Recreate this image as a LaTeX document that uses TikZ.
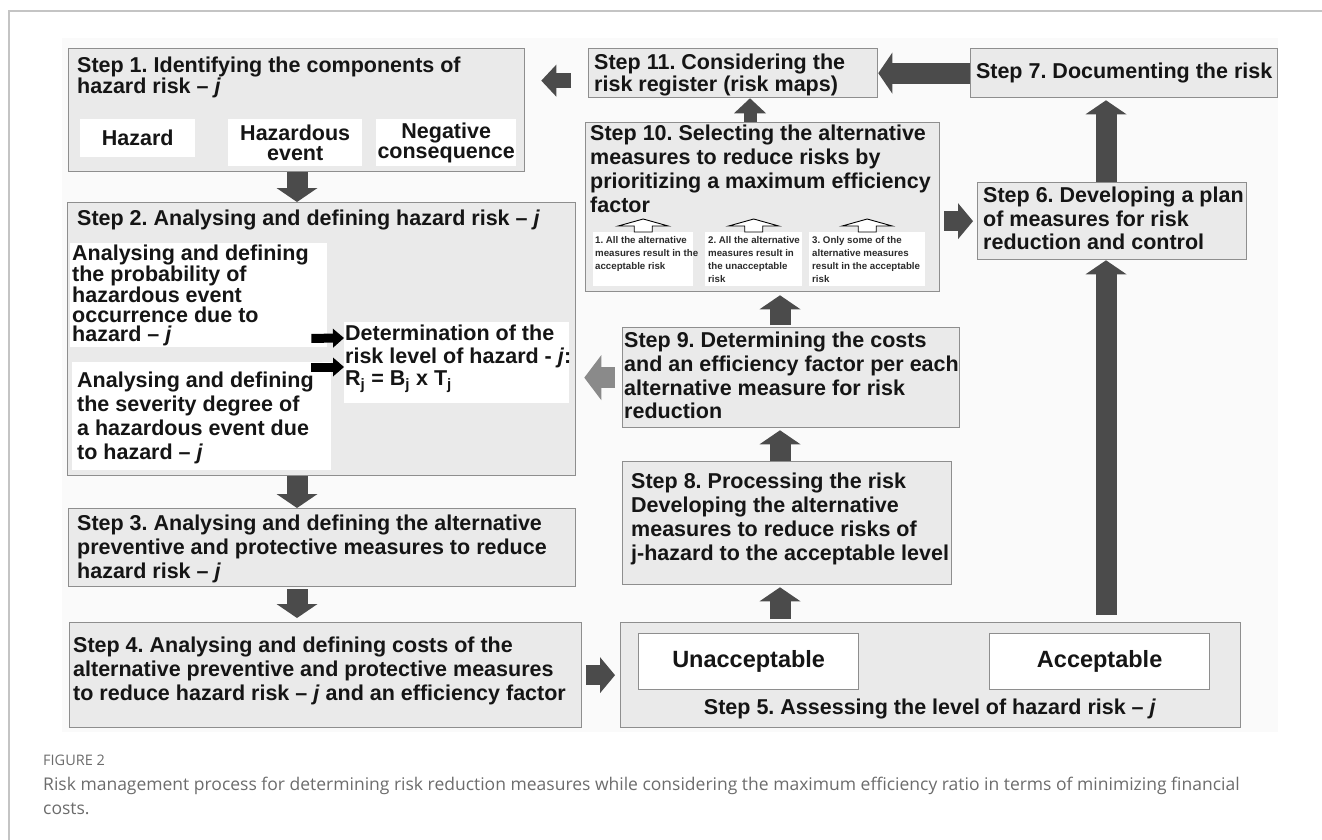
\documentclass[tikz,border=0pt]{standalone}
\usepackage{fontspec}
\setmainfont{Liberation Sans}
\newfontfamily\capfont{Open Sans}
\usepackage{tikz}
\usetikzlibrary{arrows.meta,positioning,calc}
\frenchspacing
\definecolor{cStepF}{HTML}{EAEAEA}
\definecolor{cStepL}{HTML}{8E8E8E}
\definecolor{cInk}{HTML}{151515}
\definecolor{cArrow}{HTML}{4B4B4B}
\definecolor{cArrowLt}{HTML}{8A8A8A}
\definecolor{cPanel}{HTML}{FAFAFA}
\definecolor{cFrame}{HTML}{C4C4C4}
\definecolor{cCap}{HTML}{6C6C6C}
\newcommand{\stepfont}{\bfseries\fontsize{21.5}{24}\selectfont}
\newcommand{\tightfont}{\bfseries\fontsize{21.5}{19.5}\selectfont}
\newcommand{\optfont}{\bfseries\fontsize{9.7}{13.2}\selectfont}
\newcommand{\ratefont}{\bfseries\fontsize{23.5}{26}\selectfont}
\tikzset{
  stepbox/.style={draw=cStepL,fill=cStepF,line width=1.3pt,anchor=north west,
      inner sep=0pt,text=cInk,font=\stepfont,align=center},
  whitebox/.style={fill=white,anchor=north west,inner sep=0pt},
  partbox/.style={whitebox,align=center,text=cInk,font=\tightfont},
  ratebox/.style={whitebox,draw=cStepL,line width=1.3pt,text=cInk,font=\ratefont},
  steptext/.style={anchor=north west,inner sep=0pt,align=left,text=cInk,font=\stepfont},
  opttext/.style={anchor=north west,inner sep=0pt,align=left,text=cInk!90,font=\optfont},
  bigarr/.style={draw=cArrow,line width=21pt,
      -{Triangle[length=14pt,width=41pt,line width=0pt]}},
  midarr/.style={draw=cArrow,line width=20pt,
      -{Triangle[length=15pt,width=36pt,line width=0pt]}},
  smallarr/.style={draw=cArrow,line width=15pt,
      -{Triangle[length=15pt,width=32pt,line width=0pt]}},
  greyarr/.style={draw=cArrowLt,line width=21pt,
      -{Triangle[length=17pt,width=45pt,line width=0pt]}},
  blkarr/.style={draw=black,line width=9pt,
      -{Triangle[length=11pt,width=19pt,line width=0pt]}},
  hollowarr/.style={draw=black,fill=white,line width=0.9pt,line join=miter},
}

\begin{document}
\begin{tikzpicture}[x=1pt,y=-1pt,
  figframe/.style={draw=cFrame,line width=1.5pt},
  figlabel/.style={anchor=north west,inner sep=0pt,text=cCap,
    font=\capfont\fontsize{14.5}{17}\selectfont},
  captext/.style={anchor=north west,inner sep=0pt,align=left,text=cCap,
    font=\capfont\fontsize{17.5}{24}\selectfont}]

  \useasboundingbox (0,0) rectangle (1322,840);
  \draw[figframe] (9,840) -- (9,11) -- (1322,11);
  \fill[cPanel] (62,38) rectangle (1278,732);

  % left column
  \node[stepbox,minimum width=456pt,minimum height=123pt] (s1) at (68,48) {};
  \node[steptext,font=\tightfont] (s1t) at (77,57)
    {Step 1. Identifying the components of\\hazard risk -- \textit{j}};
  \node[partbox,minimum width=115pt,minimum height=38pt] (haz) at (80,119) {Hazard};
  \node[partbox,minimum width=134pt,minimum height=47pt] (hev) at (228,119)
    {Hazardous\\event};
  \node[partbox,minimum width=140pt,minimum height=47pt] (neg) at (376,119)
    {Negative\\consequence};

  \node[stepbox,minimum width=508pt,minimum height=273pt] (s2) at (67,202) {};
  \node[steptext] (s2t) at (77,210)
    {Step 2. Analysing and defining hazard risk -- \textit{j}};
  \node[whitebox,minimum width=257pt,minimum height=104pt] (prob) at (70,243) {};
  \node[steptext,font=\tightfont] (probt) at (72,245)
    {Analysing and defining\\the probability of\\hazardous event\\occurrence due to\\hazard -- \textit{j}};
  \node[whitebox,minimum width=259pt,minimum height=108pt] (sev) at (72,362) {};
  \node[steptext] (sevt) at (77,372)
    {Analysing and defining\\the severity degree of\\a hazardous event due\\to hazard -- \textit{j}};
  \node[whitebox,minimum width=225pt,minimum height=81pt] (det) at (344,322) {};
  \node[steptext,font=\bfseries\fontsize{21.5}{22.5}\selectfont] (dett) at (345,325)
    {Determination of the\\risk level of hazard - \textit{j}:\\R\textsubscript{j} = B\textsubscript{j} x T\textsubscript{j}};

  \node[stepbox,minimum width=507pt,minimum height=78pt] (s3) at (68,508) {};
  \node[steptext] (s3t) at (77,515)
    {Step 3. Analysing and defining the alternative\\preventive and protective measures to reduce\\hazard risk -- \textit{j}};

  \node[stepbox,minimum width=512pt,minimum height=105pt] (s4) at (69,622) {};
  \node[steptext] (s4t) at (73,637)
    {Step 4. Analysing and defining costs of the\\alternative preventive and protective measures\\to reduce hazard risk -- \textit{j} and an efficiency factor};

  % middle and right column
  \node[stepbox,minimum width=289pt,minimum height=49pt] (s11) at (588,48) {};
  \node[steptext,font=\bfseries\fontsize{21.5}{22}\selectfont] (s11t) at (594,54)
    {Step 11. Considering the\\risk register (risk maps)};
  \node[stepbox,minimum width=307pt,minimum height=49pt] (s7) at (970,48)
    {Step 7. Documenting the risk};

  \node[stepbox,minimum width=354pt,minimum height=169pt] (s10) at (585,122) {};
  \node[steptext] (s10t) at (590,125)
    {Step 10. Selecting the alternative\\measures to reduce risks by\\prioritizing a maximum efficiency\\factor};
  \node[whitebox,minimum width=100pt,minimum height=54pt] (o1) at (593,232) {};
  \node[whitebox,minimum width=97pt,minimum height=54pt] (o2) at (705,232) {};
  \node[whitebox,minimum width=116pt,minimum height=54pt] (o3) at (809,232) {};
  \node[opttext] (o1t) at ([shift={(2,4)}]o1.north west)
    {1. All the alternative\\measures result in the\\acceptable risk};
  \node[opttext] (o2t) at ([shift={(3,4)}]o2.north west)
    {2. All the alternative\\measures result in\\the unacceptable\\risk};
  \node[opttext] (o3t) at ([shift={(3,4)}]o3.north west)
    {3. Only some of the\\alternative measures\\result in the acceptable\\risk};
  \draw[hollowarr] ([xshift=-9pt]o1.north) -- ++(0,-6) -- ++(-16,0)
    -- ([yshift=13pt]o1.north) -- ++(25,7) -- ++(-16,0) -- ++(0,6) -- cycle;
  \draw[hollowarr] ([xshift=-9pt]o2.north) -- ++(0,-6) -- ++(-16,0)
    -- ([yshift=13pt]o2.north) -- ++(25,7) -- ++(-16,0) -- ++(0,6) -- cycle;
  \draw[hollowarr] ([xshift=-9pt]o3.north) -- ++(0,-6) -- ++(-16,0)
    -- ([yshift=13pt]o3.north) -- ++(25,7) -- ++(-16,0) -- ++(0,6) -- cycle;

  \node[stepbox,minimum width=269pt,minimum height=77pt] (s6) at (977,182) {};
  \node[steptext,font=\bfseries\fontsize{21.5}{23.5}\selectfont] (s6t) at (983,187)
    {Step 6. Developing a plan\\of measures for risk\\reduction and control};

  \node[stepbox,minimum width=337pt,minimum height=100pt] (s9) at (622,327) {};
  \node[steptext,font=\bfseries\fontsize{21.5}{23.7}\selectfont] (s9t) at (624,332)
    {Step 9. Determining the costs\\and an efficiency factor per each\\alternative measure for risk\\reduction};

  \node[stepbox,minimum width=329pt,minimum height=123pt] (s8) at (622,461) {};
  \node[steptext] (s8t) at (631,473)
    {Step 8. Processing the risk\\Developing the alternative\\measures to reduce risks of\\j-hazard to the acceptable level};

  \node[stepbox,minimum width=620pt,minimum height=105pt] (s5) at (620,622) {};
  \node[ratebox,minimum width=220pt,minimum height=56pt] (una) at (638,633) {Unacceptable};
  \node[ratebox,minimum width=220pt,minimum height=56pt] (acc) at (989,633) {Acceptable};
  \node[steptext,anchor=center] (s5t) at (930,709)
    {Step 5. Assessing the level of hazard risk -- \textit{j}};

  % arrow columns
  \coordinate (colL) at (297,0);
  \coordinate (colM) at (780,0);
  \coordinate (colR) at (1106,0);
  \coordinate (colReg) at (750,0);

  \draw[bigarr] (colL |- s1.south) -- (colL |- s2.north);
  \draw[bigarr] (colL |- s2.south) -- (colL |- s3.north);
  \draw[bigarr,shorten <=2pt,shorten >=4pt] (colL |- s3.south) -- (colL |- s4.north);
  \draw[midarr,shorten <=4pt,shorten >=5pt] (s4.east) -- (s5.west);
  \draw[bigarr,shorten <=3pt,shorten >=2pt] (colM |- s5.north) -- (colM |- s8.south);
  \draw[bigarr,shorten >=2pt] (colM |- s8.north) -- (colM |- s9.south);
  \draw[bigarr,shorten <=2pt,shorten >=3pt] (colM |- s9.north) -- (colM |- s10.south);
  \draw[greyarr,shorten <=7pt,shorten >=8pt] (s9.west) -- (s9.west -| s2.east);
  \draw[blkarr] ([xshift=-16pt,yshift=9pt]prob.south east) -- ([yshift=-16pt]det.north west);
  \draw[blkarr] ([xshift=-20pt,yshift=-5pt]sev.north east) -- ([yshift=-45pt]det.north west);
  \draw[midarr,shorten <=4pt,shorten >=4pt] (s10.east |- s6.west) -- (s6.west);
  \draw[smallarr,line width=13pt] (colReg |- s10.north) -- (colReg |- s11.south);
  \draw[bigarr,shorten <=7pt] (colR |- s5.north) -- (colR |- s6.south);
  \draw[bigarr,shorten >=2pt] (colR |- s6.north) -- (colR |- s7.south);
  \draw[bigarr] (s7.west) -- (s11.east);
  \draw[smallarr,shorten <=17pt,shorten >=16pt] ([yshift=-7.5pt]s11.west)
    -- ([yshift=-7.5pt]s11.west -| s1.east);

  % caption
  \node[figlabel] (figno) at (43,755) {FIGURE 2};
  \node[captext] (cap) at (43,777)
    {Risk management process for determining risk reduction measures while considering the maximum efficiency ratio in terms of minimizing financial\\costs.};
\end{tikzpicture}
\end{document}
